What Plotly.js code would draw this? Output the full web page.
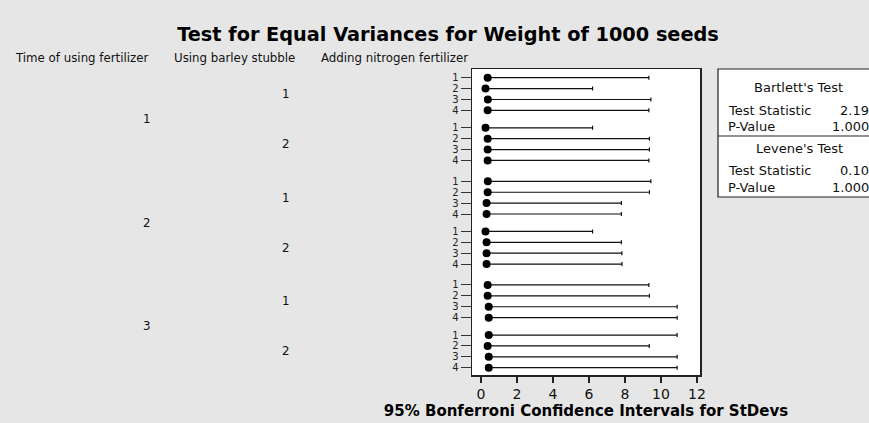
<!DOCTYPE html>
<html>
<head>
<meta charset="utf-8">
<script src="https://cdn.plot.ly/plotly-3.0.1.min.js"></script>
<style>html,body{margin:0;padding:0;background:#e6e6e6;}#chart{width:869px;height:423px;}</style>
</head>
<body>
<div id="chart"></div>
<script>
// ---- data ----
var timeLevels = ["1", "2", "3"];
var barleyLevels = ["1", "2"];
var nitrogenLevels = ["1", "2", "3", "4"];
// per cell (time, barley, nitrogen), in display order
var sigmaEst = [0.37, 0.25, 0.38, 0.37,  0.25, 0.37, 0.37, 0.37,
                0.38, 0.37, 0.31, 0.31,  0.25, 0.31, 0.31, 0.31,
                0.37, 0.37, 0.43, 0.43,  0.43, 0.37, 0.43, 0.43];
var lowerCI  = [0.22, 0.15, 0.23, 0.22,  0.15, 0.22, 0.22, 0.22,
                0.23, 0.22, 0.19, 0.19,  0.15, 0.19, 0.19, 0.19,
                0.22, 0.22, 0.26, 0.26,  0.26, 0.22, 0.26, 0.26];
var upperCI  = [9.33, 6.20, 9.44, 9.33,  6.20, 9.36, 9.36, 9.33,
                9.44, 9.36, 7.80, 7.80,  6.20, 7.80, 7.83, 7.83,
                9.33, 9.36, 10.9, 10.9,  10.9, 9.35, 10.9, 10.9];
var xTicks = [0, 2, 4, 6, 8, 10, 12];
var bartlettStat = "2.19", bartlettP = "1.000";
var leveneStat = "0.10", leveneP = "1.000";

// ---- layout of categorical rows ----
var yPos = [], yText = [], minus = [], plus = [];
var barleyCenters = [], timeCenters = [];
var gi = 0, idx = 0;
for (var t = 0; t < timeLevels.length; t++) {
  var tStart = null, tEnd = null;
  for (var b = 0; b < barleyLevels.length; b++) {
    var bStart = null, bEnd = null;
    for (var n = 0; n < nitrogenLevels.length; n++) {
      var p = idx + 0.6 * gi + 0.32 * t;
      yPos.push(p); yText.push(nitrogenLevels[n]);
      minus.push(sigmaEst[idx] - lowerCI[idx]);
      plus.push(upperCI[idx] - sigmaEst[idx]);
      if (bStart === null) bStart = p; bEnd = p;
      if (tStart === null) tStart = p; tEnd = p;
      idx++;
    }
    barleyCenters.push({y: (bStart + bEnd) / 2, text: barleyLevels[b]});
    gi++;
  }
  timeCenters.push({y: (tStart + tEnd) / 2, text: timeLevels[t]});
}
var yMax = yPos[yPos.length - 1];

var trace = {
  type: 'scatter', mode: 'markers', x: sigmaEst, y: yPos,
  marker: {color: '#000', size: 8, symbol: 'circle'},
  error_x: {type: 'data', symmetric: false, array: plus, arrayminus: minus,
            color: '#111', thickness: 1.2, width: 2},
  hoverinfo: 'skip', showlegend: false
};

var L = 472, R = 700, T = 69, B = 375, W = 869, H = 423;
function px(x) { return (x - L) / (R - L); }
function py(y) { return (B - y) / (B - T); }

var ann = [];
var small = {family: 'DejaVu Sans', size: 11.8, color: '#111'};
ann.push({xref: 'paper', yref: 'paper', x: px(13), y: py(58), xanchor: 'left', yanchor: 'middle', text: 'Time of using fertilizer', showarrow: false, font: small});
ann.push({xref: 'paper', yref: 'paper', x: px(172), y: py(58), xanchor: 'left', yanchor: 'middle', text: 'Using barley stubble', showarrow: false, font: small});
ann.push({xref: 'paper', yref: 'paper', x: px(319), y: py(58), xanchor: 'left', yanchor: 'middle', text: 'Adding nitrogen fertilizer', showarrow: false, font: small});
barleyCenters.forEach(function (c) {
  ann.push({xref: 'paper', yref: 'y', x: px(286), y: c.y, xanchor: 'center', yanchor: 'middle', text: c.text, showarrow: false, font: small});
});
timeCenters.forEach(function (c) {
  ann.push({xref: 'paper', yref: 'y', x: px(147), y: c.y, xanchor: 'center', yanchor: 'middle', text: c.text, showarrow: false, font: small});
});
var boxFont = {family: 'DejaVu Sans', size: 13, color: '#111'};
function boxText(x, y, text, anchor) {
  ann.push({xref: 'paper', yref: 'paper', x: px(x), y: py(y), xanchor: anchor, yanchor: 'middle', text: text, showarrow: false, font: boxFont});
}
boxText(798, 87, "Bartlett's Test", 'center');
boxText(726, 110, 'Test Statistic', 'left');
boxText(871, 110, bartlettStat, 'right');
boxText(726, 126, 'P-Value', 'left');
boxText(871, 126, bartlettP, 'right');
boxText(799, 148, "Levene's Test", 'center');
boxText(726, 170, 'Test Statistic', 'left');
boxText(871, 170, leveneStat, 'right');
boxText(726, 187, 'P-Value', 'left');
boxText(871, 187, leveneP, 'right');

var shapes = [
  {type: 'rect', xref: 'paper', yref: 'paper', x0: px(718), x1: px(880), y0: py(197), y1: py(69),
   line: {color: '#222', width: 1.2}, fillcolor: '#fff', layer: 'below'},
  {type: 'line', xref: 'paper', yref: 'paper', x0: px(718), x1: px(880), y0: py(136), y1: py(136),
   line: {color: '#222', width: 1.2}}
];

var layout = {
  width: W, height: H,
  paper_bgcolor: '#e6e6e6', plot_bgcolor: '#ffffff',
  margin: {l: L, r: W - R, t: T, b: H - B, pad: 0},
  title: {text: 'Test for Equal Variances for Weight of 1000 seeds',
          font: {family: 'DejaVu Sans', size: 19.3, color: '#000', weight: 'bold'},
          xref: 'container', yref: 'container', x: 448 / W, y: 1 - 34 / H,
          xanchor: 'center', yanchor: 'middle'},
  xaxis: {range: [-0.5, 12.17], tickvals: xTicks, ticktext: xTicks.map(String),
          ticks: 'outside', ticklen: 6, tickwidth: 1.5, tickcolor: '#222',
          showgrid: false, zeroline: false, showline: true, mirror: true,
          linecolor: '#222', linewidth: 1.5,
          tickfont: {family: 'DejaVu Sans', size: 14, color: '#111'},
          title: {text: '95% Bonferroni Confidence Intervals for StDevs', standoff: 2,
                  font: {family: 'DejaVu Sans', size: 15, color: '#000', weight: 'bold'}}},
  yaxis: {range: [yMax + 0.67, -0.8], tickvals: yPos, ticktext: yText,
          ticks: 'outside', ticklen: 10, tickwidth: 1, tickcolor: '#333',
          showgrid: false, zeroline: false, showline: true, mirror: true,
          linecolor: '#222', linewidth: 1.5,
          tickfont: {family: 'DejaVu Sans', size: 10, color: '#222'}},
  annotations: ann, shapes: shapes
};
Plotly.newPlot('chart', [trace], layout, {staticPlot: true, displayModeBar: false});
</script>
</body>
</html>
